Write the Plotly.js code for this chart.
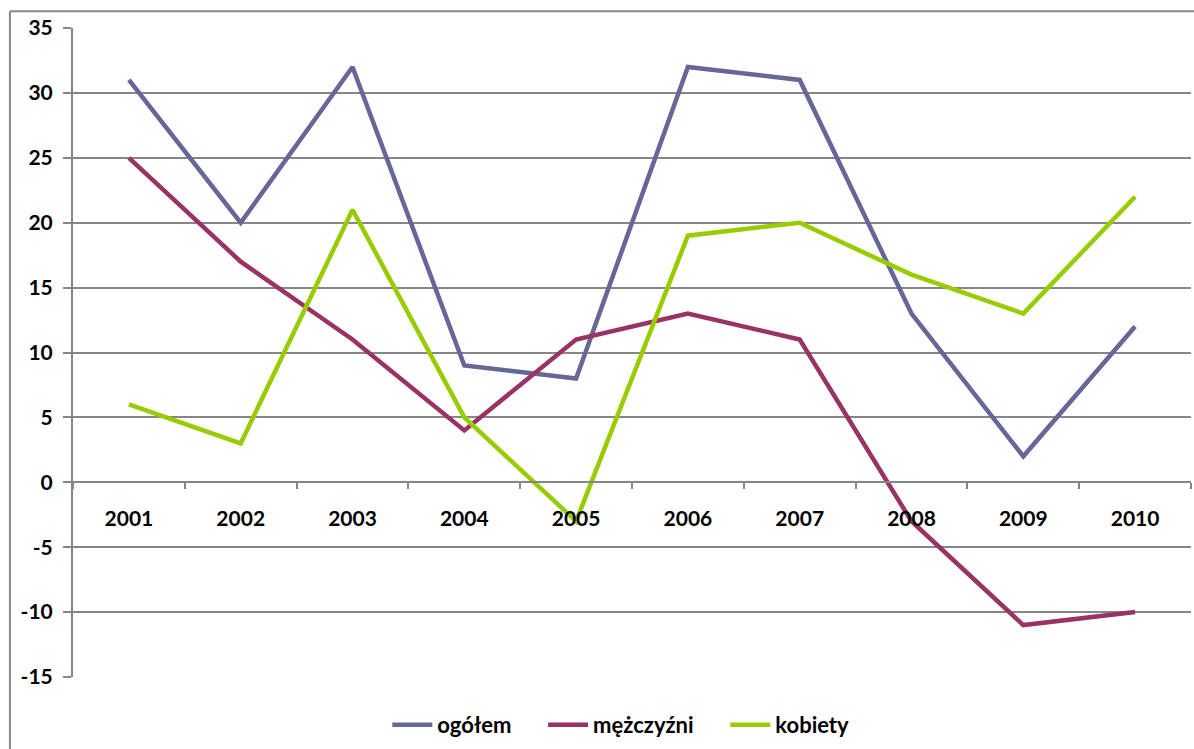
<!DOCTYPE html>
<html>
<head>
<meta charset="utf-8">
<script src="https://cdn.plot.ly/plotly-3.0.1.min.js"></script>
<style>html,body{margin:0;padding:0;background:#fff;}#chart{width:1194px;height:749px;}</style>
</head>
<body>
<div id="chart"></div>
<script>
const years = ['2001','2002','2003','2004','2005','2006','2007','2008','2009','2010'];
const ogolem = [31, 20, 32, 9, 8, 32, 31, 13, 2, 12];
const mezczyzni = [25, 17, 11, 4, 11, 13, 11, -3, -11, -10];
const kobiety = [6, 3, 21, 5, -3, 19, 20, 16, 13, 22];
const seriesNames = ['ogółem', 'mężczyźni', 'kobiety'];
const yTicks = [35, 30, 25, 20, 15, 10, 5, 0, -5, -10, -15];

const fontFam = 'Lato, "Open Sans", "Liberation Sans", sans-serif';
const colors = ['#666699', '#993366', '#99CC00'];
const pad = '\u00a0\u00a0\u00a0\u00a0\u00a0';
const data = [ogolem, mezczyzni, kobiety].map((vals, i) => ({
  x: years, y: vals, type: 'scatter', mode: 'lines',
  name: seriesNames[i] + (i < 2 ? pad : ''),
  line: {color: colors[i], width: 4.5}, hoverinfo: 'x+y'
}));

const layout = {
  width: 1194, height: 749,
  margin: {l: 73, r: 3, t: 28, b: 69},
  paper_bgcolor: '#fff', plot_bgcolor: '#fff',
  font: {family: fontFam, size: 21, color: '#000', weight: 'bold'},
  showlegend: true,
  legend: {orientation: 'h', x: 0.49, xanchor: 'center', y: -0.074, yanchor: 'middle',
           font: {family: fontFam, size: 22, color: '#000', weight: 'bold'},
           itemwidth: 40, traceorder: 'normal', tracegroupgap: 0},
  xaxis: {
    type: 'category', anchor: 'free', position: 0.3,
    range: [-0.5, 9.5], showgrid: false, zeroline: false,
    showline: true, linecolor: '#868686', linewidth: 2,
    ticks: 'outside', ticklen: 6, tickcolor: '#868686', tickwidth: 2,
    tickson: 'boundaries', ticklabelstandoff: 17,
    tickfont: {family: fontFam, size: 21, color: '#000', weight: 'bold'}
  },
  yaxis: {
    range: [-15, 35], tickvals: yTicks, ticktext: yTicks.map(String),
    showgrid: true, gridcolor: '#868686', gridwidth: 2,
    zeroline: false, showline: true, linecolor: '#868686', linewidth: 2,
    ticks: 'outside', ticklen: 8, tickcolor: '#868686', tickwidth: 2,
    ticklabelstandoff: 6,
    tickfont: {family: fontFam, size: 21, color: '#000', weight: 'bold'}
  },
  shapes: [
    {type: 'line', xref: 'paper', yref: 'paper', x0: -0.0564, x1: -0.0564, y0: 1.026, y1: -0.2,
     line: {color: '#888888', width: 2}},
    {type: 'line', xref: 'paper', yref: 'paper', x0: -0.0564, x1: 1.01, y0: 1.026, y1: 1.026,
     line: {color: '#888888', width: 2}}
  ]
};

Plotly.newPlot('chart', data, layout, {displayModeBar: false, staticPlot: true});
</script>
</body>
</html>
